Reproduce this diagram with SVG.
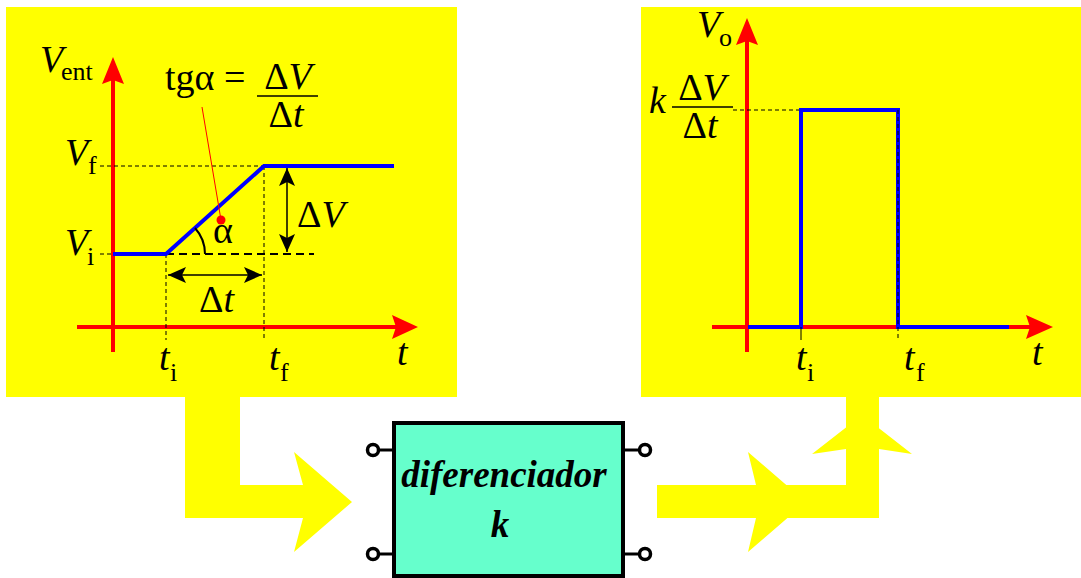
<svg xmlns="http://www.w3.org/2000/svg" width="1081" height="578" viewBox="0 0 1081 578">
<style>
.panel{fill:#FFFF00}
.axis{stroke:#FF0000;stroke-width:4;fill:none}
.axhead{fill:#FF0000}
.sig{stroke:#0000FF;stroke-width:4;fill:none;stroke-linejoin:miter}
.dash{stroke:#000;stroke-width:1;stroke-dasharray:4,3;fill:none}
.dim{stroke:#000;stroke-width:1.5;fill:none}
.big{font-family:"Liberation Serif",serif;font-size:38px;fill:#000}
.it{font-style:italic}
.sub{font-family:"Liberation Serif",serif;font-size:26px;fill:#000}
.lbl{font-family:"Liberation Serif",serif;font-size:37px;font-weight:bold;font-style:italic;fill:#000}
.term{fill:#fff;stroke:#000;stroke-width:3.5}
.lead{stroke:#000;stroke-width:3}
</style>
<defs>
<marker id="ah" viewBox="0 0 18 16" refX="18" refY="8" markerWidth="18" markerHeight="16" markerUnits="userSpaceOnUse" orient="auto-start-reverse">
<path d="M0,0 L18,8 L0,16 L4,8 Z" fill="#000"/>
</marker>
</defs>
<rect width="1081" height="578" fill="#fff"/>

<g id="input-graph">
<rect class="panel" x="6" y="7" width="451" height="390"/>
<line class="axis" x1="113" y1="352" x2="113" y2="78"/>
<polygon class="axhead" points="113,57 102,84 113,80 124,84"/>
<line class="axis" x1="77" y1="327" x2="398" y2="327"/>
<polygon class="axhead" points="418,327 392,315 396,327 392,339"/>
<line class="dash" x1="100" y1="166" x2="264" y2="166"/>
<line class="dash" x1="100" y1="254" x2="113" y2="254"/>
<line x1="166" y1="254" x2="314" y2="254" stroke="#000" stroke-width="2" stroke-dasharray="8,5"/>
<line class="dash" x1="166" y1="254" x2="166" y2="340"/>
<line class="dash" x1="264" y1="166" x2="264" y2="340"/>
<polyline class="sig" points="113,254 166,254 264,166 394,166"/>
<path d="M195,228 A39,39 0 0 1 205,254" stroke="#000" stroke-width="2" fill="none"/>
<line x1="202" y1="107" x2="221" y2="220" stroke="#FF0000" stroke-width="1"/>
<circle cx="221" cy="220" r="4.5" fill="#FF0000"/>
<line class="dim" x1="287" y1="168" x2="287" y2="252" marker-start="url(#ah)" marker-end="url(#ah)"/>
<line class="dim" x1="168" y1="275" x2="262" y2="275" marker-start="url(#ah)" marker-end="url(#ah)"/>
<text class="big" x="297" y="227">Δ<tspan class="it">V</tspan></text>
<text class="big" x="199" y="312">Δ<tspan class="it">t</tspan></text>
<text class="big" x="213" y="243">α</text>
<text class="big" x="165" y="90">tgα =</text>
<line x1="257" y1="96" x2="318" y2="96" stroke="#000" stroke-width="1.5"/>
<text class="big" x="288" y="89" text-anchor="middle">Δ<tspan class="it">V</tspan></text>
<text class="big" x="286" y="127" text-anchor="middle">Δ<tspan class="it">t</tspan></text>
<text class="big it" x="40" y="72">V</text><text class="sub" x="61" y="80">ent</text>
<text class="big it" x="65" y="165">V</text><text class="sub" x="88" y="174">f</text>
<text class="big it" x="65" y="255">V</text><text class="sub" x="87" y="265">i</text>
<text class="big it" x="159" y="370">t</text><text class="sub" x="170" y="381">i</text>
<text class="big it" x="269" y="370">t</text><text class="sub" x="280" y="381">f</text>
<text class="big it" x="397" y="365">t</text>
</g>

<g id="output-graph">
<rect class="panel" x="641" y="7" width="440" height="390"/>
<line class="axis" x1="747" y1="352" x2="747" y2="40"/>
<polygon class="axhead" points="747,18 736,45 747,41 758,45"/>
<line class="axis" x1="712" y1="327" x2="1032" y2="327"/>
<polygon class="axhead" points="1053,327 1026,315 1030,327 1026,339"/>
<line class="dash" x1="733" y1="110" x2="801" y2="110"/>
<polyline class="sig" points="748,327 801,327 801,110 898,110 898,327 1009,327"/>
<line class="dash" x1="898" y1="110" x2="898" y2="340"/>
<line x1="801" y1="327" x2="801" y2="340" stroke="#000" stroke-width="1"/>
<text class="big it" x="697" y="37">V</text><text class="sub" x="719" y="46">o</text>
<text class="big it" x="649" y="113">k</text>
<line x1="672" y1="107" x2="733" y2="107" stroke="#000" stroke-width="1.5"/>
<text class="big" x="702" y="100" text-anchor="middle">Δ<tspan class="it">V</tspan></text>
<text class="big" x="700" y="138" text-anchor="middle">Δ<tspan class="it">t</tspan></text>
<text class="big it" x="796" y="370">t</text><text class="sub" x="807" y="381">i</text>
<text class="big it" x="904" y="370">t</text><text class="sub" x="916" y="381">f</text>
<text class="big it" x="1032" y="365">t</text>
</g>

<g id="connectors">
<polygon class="panel" points="185,396 240,396 240,485 303,485 294,452 352,502 294,552 303,518 185,518"/>
<polygon class="panel" points="657,485 756,485 748,452 806,502 748,552 756,518 657,518"/>
<polygon class="panel" points="780,485 846,485 846,449 812,454 862,415 912,454 879,449 879,518 780,518"/>
<rect class="panel" x="846" y="396" width="33" height="40"/>
</g>

<g id="diferenciador">
<line class="lead" x1="378" y1="450" x2="394" y2="450"/>
<line class="lead" x1="378" y1="554" x2="394" y2="554"/>
<line class="lead" x1="623" y1="450" x2="640" y2="450"/>
<line class="lead" x1="623" y1="554" x2="640" y2="554"/>
<circle class="term" cx="373" cy="450" r="5.5"/>
<circle class="term" cx="373" cy="554" r="5.5"/>
<circle class="term" cx="645" cy="450" r="5.5"/>
<circle class="term" cx="645" cy="554" r="5.5"/>
<rect x="394" y="423" width="229" height="153" fill="#66FFCC" stroke="#000" stroke-width="4"/>
<text class="lbl" x="504" y="487" text-anchor="middle">diferenciador</text>
<text class="lbl" x="500" y="537" text-anchor="middle">k</text>
</g>
</svg>
